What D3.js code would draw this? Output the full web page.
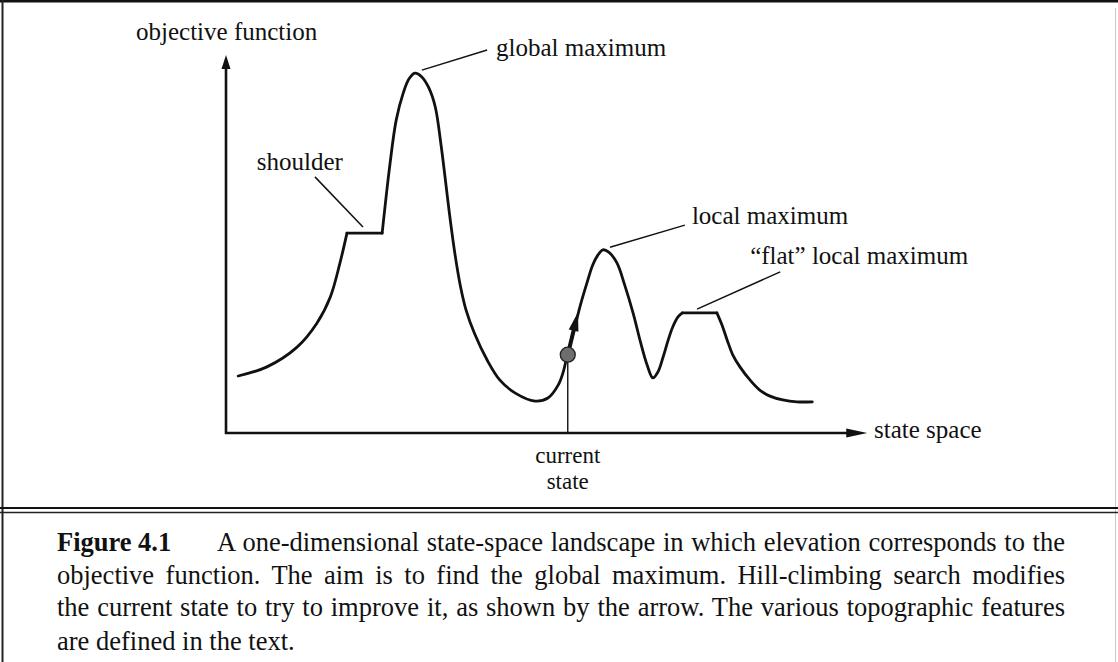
<!DOCTYPE html>
<html>
<head>
<meta charset="utf-8">
<script src="https://cdn.jsdelivr.net/npm/d3@7"></script>
<style>
  html, body { margin: 0; padding: 0; background: #fff; }
  svg { display: block; }
  text { font-family: "Liberation Serif", "Times New Roman", serif; fill: #111; }
</style>
</head>
<body>
<svg id="chart" width="1118" height="662"></svg>
<script>
// ---- data: one-dimensional state-space landscape (state, objective) ----
const landscapeX = [1.9, 6.4, 11.1, 14.2, 16.3, 17.8, 18.9,
  24.4, 25.6, 26.6, 27.7, 28.6, 29.5, 30.6, 31.7, 32.7, 33.6, 35.0, 35.8, 36.6, 37.5, 38.8,
  40.8, 42.8, 45.2, 48.3, 50.3, 51.9, 52.7, 53.3, 54.4, 55.3, 56.4,
  57.3, 58.1, 58.9, 59.8, 61.1, 62.3, 63.6, 64.8, 65.8, 66.7, 67.5, 68.3, 69.1, 69.8,
  70.6, 71.3,
  76.7, 77.5, 78.3, 79.2, 80.3, 81.9, 83.4, 85.0, 87.0, 89.2, 91.6];
const landscapeY = [15.0, 17.4, 22.6, 28.9, 35.8, 44.7, 52.6,
  52.6, 70.5, 82.4, 89.5, 93.2, 94.7, 93.7, 90.8, 85.8, 75.8, 56.6, 46.8, 38.9, 32.4, 26.3,
  19.2, 13.9, 10.5, 8.4, 9.2, 12.6, 16.1, 20.3, 27.1, 33.2, 39.5,
  44.2, 46.8, 48.2, 47.6, 44.7, 38.9, 31.6, 23.7, 17.9, 14.5, 16.1, 20.0, 24.5, 27.9,
  30.5, 31.6,
  31.6, 28.4, 24.5, 20.5, 17.4, 13.9, 11.3, 9.7, 8.7, 8.2, 8.2];
// indices where the landscape has sharp corners (shoulder and flat maximum)
const cornerIdx = [0, 6, 7, 48, 49, 59];

const currentState = 53.4;
const currentValue = 20.6;
const stepTo = [55.0, 31.8];

const annotLabels = ["global maximum", "shoulder", "local maximum", "\u201cflat\u201d local maximum"];
const annotTextX = [42.2, 4.8, 72.8, 81.9];
const annotTextY = [99.3, 69.2, 55.0, 44.5];
const leaderFromX = [30.6, 13.9, 60.0, 73.6];
const leaderFromY = [95.5, 67.4, 48.9, 32.6];
const leaderToX = [40.8, 21.4, 71.7, 86.6];
const leaderToY = [100.8, 54.2, 54.7, 42.4];

const xAxisLabel = "state space";
const yAxisLabel = "objective function";
const currentLabel = ["current", "state"];

const captionHead = ["Figure", "4.1"];
const captionLines = [
  "A one-dimensional state-space landscape in which elevation corresponds to the",
  "objective function. The aim is to find the global maximum. Hill-climbing search modifies",
  "the current state to try to improve it, as shown by the arrow. The various topographic features",
  "are defined in the text."
];

// ---- drawing ----
const svg = d3.select("#chart");
const x = d3.scaleLinear().domain([0, 100]).range([226, 866]);
const y = d3.scaleLinear().domain([0, 100]).range([433, 53]);

// frame
svg.append("line").attr("x1", 0).attr("x2", 1118).attr("y1", 1.2).attr("y2", 1.2)
  .attr("stroke", "#111").attr("stroke-width", 2.5);
svg.append("line").attr("x1", 2.5).attr("x2", 2.5).attr("y1", 0).attr("y2", 662)
  .attr("stroke", "#222").attr("stroke-width", 2);
svg.append("line").attr("x1", 1115.5).attr("x2", 1115.5).attr("y1", 8).attr("y2", 662)
  .attr("stroke", "#c8c8c8").attr("stroke-width", 1);
svg.append("line").attr("x1", 0).attr("x2", 1118).attr("y1", 508).attr("y2", 508)
  .attr("stroke", "#111").attr("stroke-width", 2);
svg.append("line").attr("x1", 0).attr("x2", 1118).attr("y1", 512.5).attr("y2", 512.5)
  .attr("stroke", "#222").attr("stroke-width", 1.4);

// axes
const axisG = svg.append("g");
const x0 = x(0), y0 = y(0);
const xTip = x(100.2), yTip = y(99.5);
axisG.append("path")
  .attr("d", `M${x0},${yTip + 10}L${x0},${y0}L${xTip - 16},${y0}`)
  .attr("fill", "none").attr("stroke", "#111").attr("stroke-width", 2.6);
axisG.append("path")
  .attr("d", `M${xTip},${y0}L${xTip - 21},${y0 - 4.5}L${xTip - 21},${y0 + 4.5}Z`)
  .attr("fill", "#111");
axisG.append("path")
  .attr("d", `M${x0},${yTip}L${x0 - 4.5},${yTip + 14}L${x0 + 4.5},${yTip + 14}Z`)
  .attr("fill", "#111");

svg.append("text").attr("x", 136).attr("y", 40).attr("font-size", 25).text(yAxisLabel);
svg.append("text").attr("x", 874).attr("y", 438).attr("font-size", 25).text(xAxisLabel);

// landscape curve
const line = d3.line().x(d => x(d[0])).y(d => y(d[1])).curve(d3.curveCatmullRom.alpha(0.5));
const pts = landscapeX.map((v, i) => [v, landscapeY[i]]);
for (let k = 0; k < cornerIdx.length - 1; k++) {
  const seg = pts.slice(cornerIdx[k], cornerIdx[k + 1] + 1);
  svg.append("path").attr("d", line(seg)).attr("fill", "none")
    .attr("stroke", "#111").attr("stroke-width", 2.8)
    .attr("stroke-linejoin", "round").attr("stroke-linecap", "round");
}

// current state marker
svg.append("line")
  .attr("x1", x(currentState)).attr("x2", x(currentState))
  .attr("y1", y(currentValue)).attr("y2", y(0))
  .attr("stroke", "#111").attr("stroke-width", 1.4);

const cx = x(currentState), cy = y(currentValue);
const tx = x(stepTo[0]), ty = y(stepTo[1]);
const dx = tx - cx, dy = ty - cy, len = Math.hypot(dx, dy);
const ux = dx / len, uy = dy / len, headL = 19, headW = 5;
const bx = tx - ux * headL, by = ty - uy * headL;
svg.append("line").attr("x1", cx).attr("y1", cy).attr("x2", bx + ux * 2).attr("y2", by + uy * 2)
  .attr("stroke", "#111").attr("stroke-width", 4);
svg.append("path")
  .attr("d", `M${tx},${ty}L${bx - uy * headW},${by + ux * headW}L${bx + uy * headW},${by - ux * headW}Z`)
  .attr("fill", "#111");
svg.append("circle").attr("cx", cx).attr("cy", cy).attr("r", 7.5)
  .attr("fill", "#6e6e6e").attr("stroke", "#222").attr("stroke-width", 1.3);

const curText = svg.append("text").attr("font-size", 23).attr("text-anchor", "middle");
curText.append("tspan").attr("x", cx).attr("y", 463).text(currentLabel[0]);
curText.append("tspan").attr("x", cx).attr("y", 489).text(currentLabel[1]);

// annotations
annotLabels.forEach((t, i) => {
  svg.append("line")
    .attr("x1", x(leaderFromX[i])).attr("y1", y(leaderFromY[i]))
    .attr("x2", x(leaderToX[i])).attr("y2", y(leaderToY[i]))
    .attr("stroke", "#111").attr("stroke-width", 1.5);
  svg.append("text").attr("x", x(annotTextX[i])).attr("y", y(annotTextY[i]))
    .attr("font-size", 25).text(t);
});

// caption
const capSize = 26.5;
const capBase = [551, 584, 616, 650];
const head = svg.append("text").attr("x", 57).attr("y", capBase[0])
  .attr("font-size", capSize).attr("font-weight", "bold");
head.append("tspan").text(captionHead[0]);
head.append("tspan").attr("x", 138).text(captionHead[1]);

const capStart = [217, 57, 57, 57];
const capEnd = 1065;
captionLines.forEach((t, i) => {
  const el = svg.append("text").attr("x", capStart[i]).attr("y", capBase[i])
    .attr("font-size", capSize).text(t);
  if (i < 3) {
    const natural = el.node().getComputedTextLength();
    const gaps = t.split(" ").length - 1;
    const ws = (capEnd - capStart[i] - natural) / gaps;
    el.style("word-spacing", ws + "px");
  }
});
</script>
</body>
</html>
